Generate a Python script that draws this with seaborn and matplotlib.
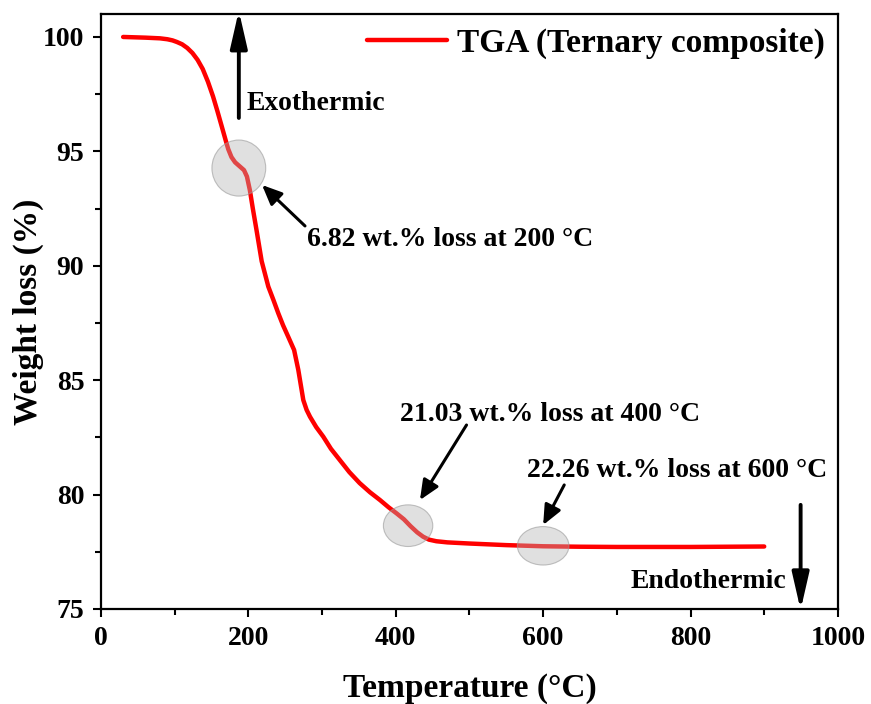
import numpy as np
import pandas as pd
import matplotlib
matplotlib.use("Agg")
import matplotlib.pyplot as plt
from matplotlib.patches import Ellipse
from matplotlib.ticker import MultipleLocator
import seaborn as sns

# ---- data ----
temperature = [30, 60, 80, 90, 97, 103, 110, 117, 124, 131, 138, 145, 152, 158, 164,
               169, 172.6, 177, 182, 188, 194, 198, 202, 206, 211, 218, 227, 234,
               240.6, 247, 254, 262, 267.7, 274.5, 279, 283.6, 292, 301.6, 312, 324,
               337, 351, 365, 378.6, 390, 401, 411, 420, 429, 437, 445, 455, 470, 500,
               550, 600, 650, 700, 800, 900]
weight = [100.0, 99.97, 99.94, 99.9, 99.85, 99.78, 99.68, 99.52, 99.3, 99.0, 98.6,
          98.05, 97.4, 96.75, 96.07, 95.5, 95.1, 94.75, 94.52, 94.35, 94.18, 93.9,
          93.3, 92.5, 91.56, 90.2, 89.09, 88.5, 87.92, 87.4, 86.9, 86.32, 85.45,
          84.13, 83.7, 83.4, 82.95, 82.53, 82.0, 81.51, 80.98, 80.5, 80.1, 79.76,
          79.45, 79.18, 78.92, 78.62, 78.35, 78.16, 78.03, 77.96, 77.91, 77.86,
          77.79, 77.74, 77.72, 77.71, 77.71, 77.73]
series_label = "TGA (Ternary composite)"
x_ticks = [0, 200, 400, 600, 800, 1000]
y_ticks = [75, 80, 85, 90, 95, 100]
annotations = ["6.82 wt.% loss at 200 °C", "21.03 wt.% loss at 400 °C",
               "22.26 wt.% loss at 600 °C"]

df = pd.DataFrame({"Temperature": temperature, "Weight": weight,
                   "Series": series_label})

sns.set_theme(style="ticks")
plt.rcParams["font.family"] = ["Liberation Serif", "DejaVu Serif"]
plt.rcParams["font.weight"] = "bold"
plt.rcParams["axes.labelweight"] = "bold"
for k in ["text.color", "axes.labelcolor", "xtick.color", "ytick.color",
          "axes.edgecolor"]:
    plt.rcParams[k] = "black"

fig = plt.figure(figsize=(8.71, 7.04), dpi=100)
ax = fig.add_axes([0.116, 0.135, 0.846, 0.845])

sns.lineplot(data=df, x="Temperature", y="Weight", hue="Series",
             palette=["#ff0000"], linewidth=3.2, ax=ax, sort=False)
for ln in ax.get_lines():
    ln.set_solid_joinstyle("round")
    ln.set_solid_capstyle("round")

ax.set_xlim(0, 1000)
ax.set_ylim(75, 101)
ax.set_xticks(x_ticks)
ax.set_yticks(y_ticks)
ax.xaxis.set_minor_locator(MultipleLocator(100))
ax.yaxis.set_minor_locator(MultipleLocator(2.5))
ax.tick_params(axis="both", which="major", direction="out", length=6, width=1.5,
               labelsize=20, pad=6, colors="black")
ax.tick_params(axis="both", which="minor", direction="out", length=4, width=1.5,
               colors="black")
for lab in ax.get_xticklabels() + ax.get_yticklabels():
    lab.set_fontweight("bold")
for s in ax.spines.values():
    s.set_linewidth(1.6)
    s.set_color("black")

ax.set_xlabel("Temperature (°C)", fontsize=24, fontweight="bold", labelpad=16,
              color="black")
ax.set_ylabel("Weight loss (%)", fontsize=24, fontweight="bold", labelpad=-1,
              color="black")

# highlight ellipses
ell_kw = dict(facecolor=(0.7, 0.7, 0.7, 0.4), edgecolor=(0.6, 0.6, 0.6, 0.6), lw=0.8,
              zorder=3)
ax.add_patch(Ellipse((187, 94.27), 73, 2.45, **ell_kw))
ax.add_patch(Ellipse((416.7, 78.64), 67, 1.82, **ell_kw))
ax.add_patch(Ellipse((600, 77.76), 70, 1.68, **ell_kw))

arrow_kw = dict(arrowstyle="-|>,head_length=0.5,head_width=0.22", color="black",
                lw=2.2, mutation_scale=24, shrinkA=0, shrinkB=0)
big_arrow = dict(arrowstyle="-|>,head_length=0.7,head_width=0.16", color="black",
                 lw=2.8, mutation_scale=32, shrinkA=0, shrinkB=0)
txt_kw = dict(fontsize=20, fontweight="bold", color="black", va="center")

# exothermic / endothermic
ax.annotate("", xy=(187, 101.15), xytext=(187, 96.46), arrowprops=big_arrow,
            annotation_clip=False)
ax.text(198, 97.1, "Exothermic", ha="left", **txt_kw)
ax.annotate("", xy=(949.4, 74.95), xytext=(949.4, 79.55), arrowprops=big_arrow,
            annotation_clip=False)
ax.text(930, 76.19, "Endothermic", ha="right", **txt_kw)

# loss annotations
ax.annotate("", xy=(218.5, 93.53), xytext=(276.8, 91.74), arrowprops=arrow_kw)
ax.text(279.5, 91.13, annotations[0], ha="left", **txt_kw)
ax.annotate("", xy=(432.8, 79.76), xytext=(496, 83.04), arrowprops=arrow_kw)
ax.text(405.7, 83.48, annotations[1], ha="left", **txt_kw)
ax.annotate("", xy=(600, 78.67), xytext=(628.6, 80.42), arrowprops=arrow_kw)
ax.text(577.6, 81.07, annotations[2], ha="left", **txt_kw)

leg = ax.legend(loc="upper right", frameon=False, fontsize=24, handlelength=2.4,
                handletextpad=0.3, borderaxespad=0.0, borderpad=0.4)
for t in leg.get_texts():
    t.set_fontweight("bold")
    t.set_color("black")
for l in leg.get_lines():
    l.set_linewidth(3.2)

fig.savefig("out.png", dpi=100)
